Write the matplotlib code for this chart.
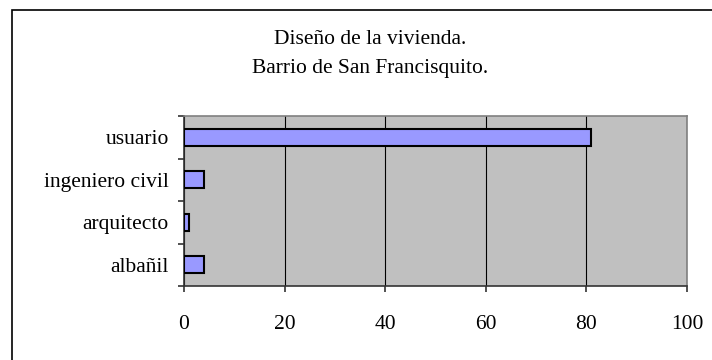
import matplotlib
matplotlib.use("Agg")
import matplotlib.pyplot as plt
from matplotlib.patches import Rectangle

categories = ["albañil", "arquitecto", "ingeniero civil", "usuario"]
values = [4, 1, 4, 81]
xticks = [0, 20, 40, 60, 80, 100]

plt.rcParams['font.family'] = ['Liberation Serif', 'DejaVu Serif']

W, H = 712, 360
FS = 15.5
fig = plt.figure(figsize=(W / 100, H / 100), dpi=100)
fig.patch.set_facecolor("white")

# outer frame of the chart
fig.add_artist(Rectangle((12 / W, -0.05), 1.2, 1 - 10 / H + 0.05,
                         transform=fig.transFigure, fill=False,
                         edgecolor="black", linewidth=1.2))

left, right, top, bottom = 184, 687, 116, 286
ax = fig.add_axes([left / W, 1 - bottom / H, (right - left) / W, (bottom - top) / H])
ax.set_facecolor("#C0C0C0")

ypos = list(range(len(categories)))
ax.barh(ypos, values, height=0.4, color="#9999FF", edgecolor="black",
        linewidth=1.5, zorder=3)

ax.set_xlim(0, 100)
ax.set_ylim(-0.5, len(categories) - 0.5)
ax.set_xticks(xticks)
ax.set_xticklabels([str(t) for t in xticks], fontsize=FS)
ax.set_yticks(ypos)
ax.set_yticklabels(categories, fontsize=FS)
ax.tick_params(axis="y", length=0, pad=11)
ax.set_yticks([y + 0.5 for y in ypos[:-1]] + [-0.5, len(categories) - 0.5], minor=True)
ax.tick_params(axis="y", which="minor", length=4, width=1.2, color="#333333")
ax.tick_params(axis="x", length=4, width=1.2, color="#333333", pad=17)

ax.xaxis.grid(True, color="black", linewidth=0.8, zorder=1)
ax.set_axisbelow(True)

for s in ("top", "right"):
    ax.spines[s].set_color("#808080")
    ax.spines[s].set_linewidth(1.2)
for s in ("left", "bottom"):
    ax.spines[s].set_color("#333333")
    ax.spines[s].set_linewidth(1.2)

fig.text(370 / W, 1 - 39 / H, "Diseño de la vivienda.", ha="center", va="center", fontsize=FS)
fig.text(370 / W, 1 - 69 / H, "Barrio de San Francisquito.", ha="center", va="center", fontsize=FS)

fig.savefig("out.png", dpi=100)
